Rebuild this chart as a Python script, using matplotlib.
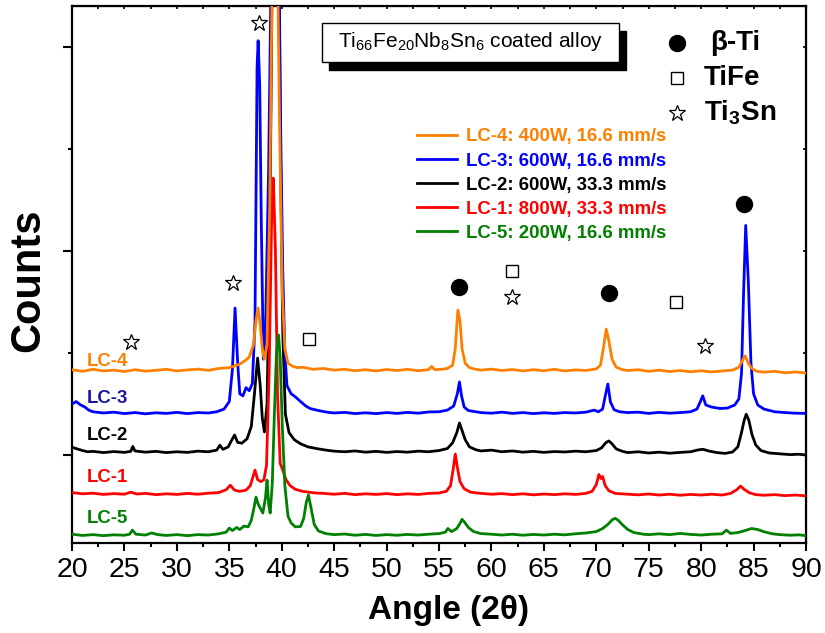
import matplotlib
matplotlib.use('Agg')
import matplotlib.pyplot as plt
from matplotlib.patches import Rectangle
from matplotlib.ticker import MultipleLocator
import numpy as np

plt.rcParams['font.family'] = ['Liberation Sans', 'DejaVu Sans']
plt.rcParams['mathtext.fontset'] = 'custom'
plt.rcParams['mathtext.rm'] = 'Liberation Sans'
plt.rcParams['mathtext.bf'] = 'Liberation Sans:bold'

# (2theta, counts)
lc4 = np.array([
    (20, 1418), (21, 1410), (22, 1420), (23, 1412), (24, 1416), (25, 1409), (26, 1418), (27, 1411),
    (28, 1415), (29, 1420), (30, 1412), (31, 1417), (32, 1421), (33, 1415), (34, 1424), (35, 1428),
    (35.5, 1436), (36, 1446), (36.5, 1462), (36.9, 1480), (37.3, 1540), (37.55, 1660), (37.75, 1720),
    (37.95, 1640), (38.15, 1520), (38.35, 1470), (38.6, 1540), (38.85, 2200), (39.1, 3400), (39.3, 3600),
    (39.55, 3600), (39.8, 2600), (40.05, 1800), (40.3, 1520), (40.6, 1450), (41, 1436), (41.5, 1428),
    (42, 1430), (43, 1420), (44, 1424), (45, 1416), (46, 1420), (47, 1413), (48, 1418), (49, 1412),
    (50, 1419), (51, 1414), (52, 1420), (53, 1413), (54, 1418), (54.3, 1434), (54.6, 1418), (55.2, 1420),
    (55.8, 1424), (56.3, 1440), (56.55, 1520), (56.8, 1710), (57.0, 1660), (57.2, 1520), (57.5, 1450),
    (57.9, 1428), (58.5, 1420), (59, 1416), (60, 1421), (61, 1414), (62, 1419), (63, 1412), (64, 1418),
    (65, 1413), (66, 1420), (67, 1412), (68, 1417), (69, 1414), (70, 1422), (70.4, 1440), (70.7, 1530),
    (70.95, 1617), (71.2, 1560), (71.5, 1470), (71.9, 1430), (72.5, 1418), (73, 1414), (74, 1418),
    (75, 1410), (76, 1416), (77, 1409), (78, 1414), (79, 1408), (80, 1413), (81, 1407), (82, 1412),
    (83, 1416), (83.6, 1430), (84.0, 1470), (84.2, 1486), (84.45, 1455), (84.8, 1425), (85.3, 1410),
    (86, 1406), (87, 1410), (88, 1403), (89, 1407), (90, 1402)])

lc3 = np.array([
    (20, 1250), (20.4, 1262), (20.8, 1246), (21.2, 1236), (21.6, 1220), (22, 1212), (23, 1206), (24, 1210),
    (25, 1203), (26, 1208), (27, 1202), (28, 1207), (29, 1204), (30, 1209), (31, 1203), (32, 1208),
    (33, 1206), (33.8, 1212), (34.5, 1225), (35, 1262), (35.3, 1420), (35.55, 1720), (35.8, 1450),
    (36.0, 1300), (36.3, 1290), (36.6, 1330), (36.9, 1315), (37.2, 1350), (37.45, 1650), (37.65, 2900),
    (37.75, 3030), (37.9, 2820), (38.05, 2150), (38.25, 1470), (38.45, 1600), (38.75, 2400), (39.0, 3400),
    (39.3, 3600), (39.7, 3600), (39.9, 2600), (40.1, 1900), (40.3, 1500), (40.5, 1340), (40.9, 1300),
    (41.3, 1285), (41.8, 1262), (42.3, 1240), (42.7, 1228), (43.5, 1218), (44.3, 1210), (45, 1206),
    (46, 1209), (47, 1203), (48, 1207), (49, 1203), (50, 1208), (51, 1204), (52, 1209), (53, 1205),
    (54, 1211), (55, 1212), (55.8, 1220), (56.4, 1240), (56.75, 1300), (56.95, 1358), (57.15, 1290),
    (57.4, 1235), (57.8, 1218), (58.5, 1212), (59, 1208), (60, 1205), (61, 1210), (62, 1204), (63, 1208),
    (64, 1203), (65, 1207), (66, 1204), (67, 1208), (68, 1206), (69, 1210), (69.8, 1220), (70.2, 1212),
    (70.6, 1225), (70.9, 1300), (71.1, 1348), (71.35, 1260), (71.7, 1222), (72.2, 1212), (73, 1208),
    (74, 1210), (75, 1204), (76, 1209), (77, 1205), (78, 1208), (79, 1212), (79.6, 1225), (79.95, 1265),
    (80.15, 1290), (80.45, 1245), (81, 1235), (81.8, 1228), (82.5, 1230), (83.2, 1245), (83.6, 1275),
    (83.85, 1400), (84.05, 1800), (84.25, 2125), (84.5, 1850), (84.75, 1450), (85.0, 1300), (85.4, 1245),
    (86, 1225), (87, 1212), (88, 1208), (89, 1205), (90, 1204)])

lc2 = np.array([
    (20, 1038), (20.5, 1030), (21, 1022), (21.5, 1016), (22, 1018), (23, 1012), (24, 1017), (25, 1013),
    (25.6, 1018), (25.8, 1042), (26.0, 1020), (27, 1014), (28, 1018), (29, 1012), (30, 1016), (31, 1013),
    (32, 1019), (33, 1016), (33.8, 1024), (34.1, 1048), (34.4, 1028), (34.9, 1040), (35.25, 1075),
    (35.5, 1098), (35.8, 1062), (36.2, 1058), (36.7, 1080), (37.1, 1140), (37.4, 1300), (37.7, 1475),
    (37.95, 1340), (38.15, 1180), (38.35, 1113), (38.6, 1250), (38.85, 2000), (39.1, 3400), (39.4, 3600),
    (39.7, 3600), (39.9, 2400), (40.1, 1600), (40.35, 1200), (40.7, 1110), (41.2, 1075), (41.8, 1055),
    (42.5, 1040), (43.5, 1030), (44.5, 1022), (45, 1019), (46, 1016), (47, 1020), (48, 1014), (49, 1018),
    (50, 1013), (51, 1017), (52, 1014), (53, 1019), (54, 1016), (55, 1022), (55.8, 1032), (56.3, 1060),
    (56.7, 1110), (56.95, 1157), (57.2, 1120), (57.5, 1075), (57.9, 1040), (58.5, 1026), (59, 1020),
    (60, 1024), (61, 1016), (62, 1020), (63, 1014), (64, 1018), (65, 1013), (66, 1017), (67, 1015),
    (68, 1019), (69, 1016), (70, 1022), (70.5, 1035), (70.9, 1060), (71.2, 1069), (71.5, 1055),
    (71.9, 1030), (72.5, 1018), (73, 1012), (74, 1016), (75, 1010), (76, 1014), (77, 1009), (78, 1013),
    (79, 1016), (79.7, 1025), (80.2, 1028), (80.7, 1020), (81.5, 1012), (82.3, 1008), (83.0, 1015),
    (83.5, 1040), (83.85, 1110), (84.1, 1170), (84.3, 1200), (84.55, 1170), (84.85, 1100), (85.2, 1050),
    (85.7, 1022), (86.5, 1010), (87.5, 1006), (88.5, 1002), (89.3, 1004), (90, 1000)])

lc1 = np.array([
    (20, 816), (21, 810), (22, 813), (23, 807), (24, 811), (25, 808), (25.6, 818), (26.2, 809), (27, 812),
    (28, 806), (29, 810), (30, 807), (31, 812), (32, 808), (33, 813), (34, 816), (34.7, 830), (35.1, 852),
    (35.5, 828), (36, 822), (36.6, 828), (37.0, 850), (37.3, 900), (37.45, 926), (37.7, 880), (38.0, 870),
    (38.3, 878), (38.55, 950), (38.8, 1400), (39.05, 2200), (39.2, 2357), (39.4, 2000), (39.6, 1300),
    (39.85, 960), (40.1, 926), (40.4, 880), (40.8, 850), (41.3, 832), (42, 822), (43, 815), (44, 812),
    (45, 808), (46, 812), (47, 806), (48, 810), (49, 807), (50, 811), (51, 806), (52, 810), (53, 807),
    (54, 812), (55, 814), (55.7, 822), (56.1, 850), (56.35, 930), (56.55, 1005), (56.75, 940), (57.0, 870),
    (57.4, 835), (58, 818), (59, 812), (60, 808), (61, 811), (62, 806), (63, 810), (64, 805), (65, 809),
    (66, 806), (67, 810), (68, 807), (69, 812), (69.6, 822), (70.0, 855), (70.25, 905), (70.45, 885),
    (70.6, 895), (70.85, 850), (71.2, 825), (71.8, 812), (73, 808), (74, 805), (75, 809), (76, 804),
    (77, 808), (78, 803), (79, 807), (80, 804), (81, 808), (82, 804), (82.8, 812), (83.4, 830),
    (83.75, 848), (84.1, 832), (84.6, 815), (85.2, 806), (86, 803), (87, 806), (88, 801), (89, 804),
    (90, 800)])

lc5 = np.array([
    (20, 612), (21, 606), (22, 610), (23, 605), (24, 609), (25, 607), (25.5, 612), (25.75, 632),
    (26.1, 612), (27, 608), (27.6, 618), (28.2, 610), (29, 606), (30, 610), (31, 605), (32, 610),
    (33, 608), (34, 614), (34.7, 622), (35.0, 642), (35.3, 630), (35.7, 645), (36.0, 635), (36.4, 652),
    (36.8, 648), (37.1, 680), (37.35, 740), (37.55, 794), (37.75, 760), (37.95, 740), (38.2, 716),
    (38.45, 790), (38.6, 877), (38.75, 760), (38.9, 716), (39.1, 860), (39.3, 1200), (39.5, 1500),
    (39.7, 1588), (39.85, 1480), (40.05, 1150), (40.3, 850), (40.6, 700), (40.9, 667), (41.3, 648),
    (41.8, 650), (42.1, 690), (42.35, 770), (42.55, 804), (42.8, 740), (43.1, 660), (43.5, 628),
    (44.2, 615), (45, 610), (46, 613), (47, 607), (48, 611), (49, 606), (50, 610), (51, 607), (52, 611),
    (53, 608), (54, 612), (55, 615), (55.6, 622), (55.85, 640), (56.2, 625), (56.7, 640), (57.0, 665),
    (57.2, 685), (57.45, 670), (57.8, 645), (58.3, 625), (59, 615), (60, 612), (61, 608), (62, 612),
    (63, 607), (64, 611), (65, 608), (66, 612), (67, 609), (68, 614), (69, 618), (70, 625), (70.6, 640),
    (71.1, 660), (71.5, 682), (71.8, 690), (72.1, 680), (72.5, 658), (73, 635), (73.6, 620), (74.5, 612),
    (75, 610), (76, 614), (77, 610), (78, 616), (79, 611), (80, 608), (81, 612), (82, 614), (82.4, 632),
    (82.8, 616), (83.5, 620), (84.2, 630), (84.8, 640), (85.4, 635), (86, 624), (86.8, 614), (87.5, 610),
    (88.5, 607), (89.3, 609), (90, 605)])

names = ['LC-4', 'LC-3', 'LC-2', 'LC-1', 'LC-5']
legend_labels = ['LC-4: 400W, 16.6 mm/s', 'LC-3: 600W, 16.6 mm/s', 'LC-2: 600W, 33.3 mm/s',
                 'LC-1: 800W, 33.3 mm/s', 'LC-5: 200W, 16.6 mm/s']
colors = ['#FF8000', '#0000FF', '#000000', '#FF0000', '#008000']
label_colors = ['#FF8000', '#1A1A9A', '#000000', '#FF0000', '#008000']
label_y = [1456, 1279, 1098, 892, 691]

# phase markers (2theta, counts)
beta_ti = [(56.9, 1823), (71.2, 1794), (84.1, 2230)]
tife = [(42.6, 1568), (62.0, 1902), (77.6, 1750)]
ti3sn = [(25.6, 1554), (35.4, 1843), (37.8, 3117), (62.0, 1774), (80.4, 1534)]

fig = plt.figure(figsize=(8.25, 6.33), dpi=100)
ax = fig.add_axes([72 / 825, 90 / 633, 734 / 825, 537 / 633])

series = [lc4, lc3, lc2, lc1, lc5]
handles = []
for data, c, lab, z in zip(series, colors, legend_labels, [6, 5, 3, 4, 4.5]):
    h, = ax.plot(data[:, 0], data[:, 1], color=c, lw=2.0, label=lab, zorder=z)
    handles.append(h)

for n, c, y in zip(names, label_colors, label_y):
    ax.text(21.4, y, n, color=c, fontsize=13.4, fontweight='bold', ha='left', va='center')

mk = dict(linestyle='none', markeredgecolor='black', zorder=7)
ax.plot(*zip(*beta_ti), marker='o', ms=11.5, color='black', **mk)
ax.plot(*zip(*tife), marker='s', ms=8.5, markerfacecolor='none', mew=1.0, **mk)
ax.plot(*zip(*ti3sn), marker='*', ms=12, markerfacecolor='none', mew=0.9, **mk)

ax.set_xlim(20, 90)
ax.set_ylim(569, 3200)
ax.xaxis.set_major_locator(MultipleLocator(5))
ax.xaxis.set_minor_locator(MultipleLocator(2.5))
ax.yaxis.set_major_locator(MultipleLocator(1000))
ax.yaxis.set_minor_locator(MultipleLocator(500))
ax.set_yticklabels([])
ax.tick_params(which='major', direction='out', length=6, width=1.5, labelsize=20.5, pad=4)
ax.tick_params(which='minor', direction='out', length=3, width=1.5)
ax.tick_params(axis='y', which='major', length=6.5)
for sp in ax.spines.values():
    sp.set_linewidth(1.6)

# ticks on the opposite sides point inwards
top = ax.secondary_xaxis('top')
top.xaxis.set_major_locator(MultipleLocator(5))
top.xaxis.set_minor_locator(MultipleLocator(2.5))
top.tick_params(which='both', direction='in', length=2.5, width=1.2, labeltop=False)
right = ax.secondary_yaxis('right')
right.yaxis.set_major_locator(MultipleLocator(1000))
right.yaxis.set_minor_locator(MultipleLocator(500))
right.tick_params(which='both', direction='in', length=2.5, width=1.2, labelright=False)

fig.text(28 / 825, 1 - 280 / 633, 'Counts', rotation=90, ha='center', va='center',
         fontsize=30, fontweight='bold')
fig.text(448 / 825, 1 - 611 / 633, 'Angle (2\u03b8)', ha='center', va='center',
         fontsize=24, fontweight='bold')

# title box with drop shadow
bx0, bx1, by0, by1 = 0.3406, 0.7452, 0.8957, 0.9683
ax.add_patch(Rectangle((bx0 + 0.0095, by0 - 0.0149), bx1 - bx0, by1 - by0, transform=ax.transAxes,
                       facecolor='black', edgecolor='black', zorder=8, clip_on=False))
ax.add_patch(Rectangle((bx0, by0), bx1 - bx0, by1 - by0, transform=ax.transAxes,
                       facecolor='white', edgecolor='black', lw=1.0, zorder=9, clip_on=False))
ax.text((bx0 + bx1) / 2, (by0 + by1) / 2 + 0.002,
        r'Ti$_\mathregular{66}$Fe$_\mathregular{20}$Nb$_\mathregular{8}$Sn$_\mathregular{6}$ coated alloy',
        transform=ax.transAxes, ha='center', va='center', fontsize=15, zorder=10)

# phase key
kx = 0.824
ax.plot([kx], [0.931], marker='o', ms=11.5, color='black', transform=ax.transAxes, clip_on=False)
ax.plot([kx], [0.866], marker='s', ms=8, mfc='none', mec='black', mew=1.0, transform=ax.transAxes)
ax.plot([kx], [0.801], marker='*', ms=12, mfc='none', mec='black', mew=0.9, transform=ax.transAxes)
ax.text(0.870, 0.931, '\u03b2-Ti', transform=ax.transAxes, fontsize=20, fontweight='bold', va='center')
ax.text(0.861, 0.866, 'TiFe', transform=ax.transAxes, fontsize=20, fontweight='bold', va='center')
ax.text(0.861, 0.801, r'Ti$_\mathregular{3}$Sn', transform=ax.transAxes, fontsize=20,
        fontweight='bold', va='center')

ax.legend(handles=handles, loc='upper left', bbox_to_anchor=(0.470, 0.772), frameon=False,
          labelcolor='linecolor', prop={'weight': 'bold', 'size': 13.4}, handlelength=2.15,
          handletextpad=0.5, labelspacing=0.38, borderpad=0, borderaxespad=0)

fig.savefig('out.png', dpi=100)
